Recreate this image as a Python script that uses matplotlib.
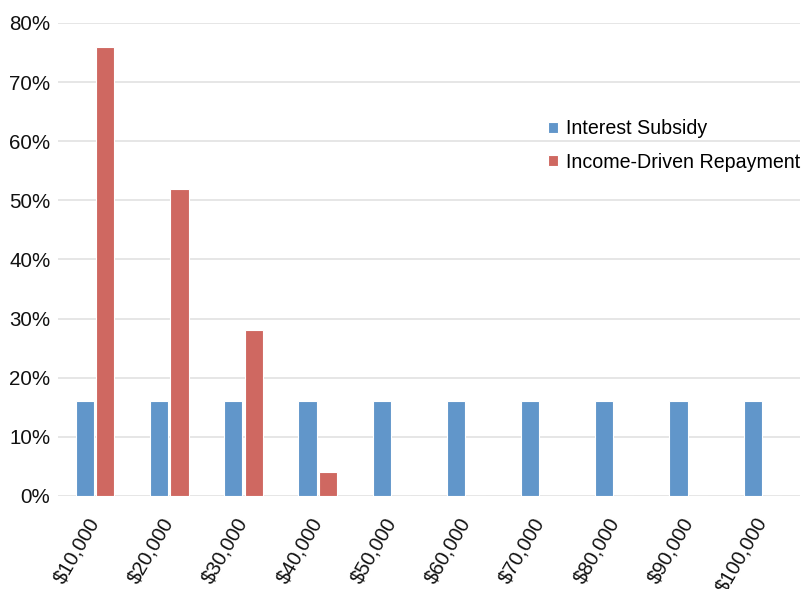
import numpy as np
import matplotlib.pyplot as plt
from matplotlib.ticker import PercentFormatter

plt.rcParams['font.family'] = ['Liberation Sans', 'DejaVu Sans']

incomes = ['$10,000', '$20,000', '$30,000', '$40,000', '$50,000',
           '$60,000', '$70,000', '$80,000', '$90,000', '$100,000']
interest_subsidy = [16, 16, 16, 16, 16, 16, 16, 16, 16, 16]
idr = [76, 52, 28, 4, 0, 0, 0, 0, 0, 0]

blue = '#6196CA'
red = '#CF6861'

fig = plt.figure(figsize=(8.12, 5.89), dpi=100)
ax = fig.add_axes([0.0714, 0.158, 0.914, 0.803])

x = np.arange(len(incomes))
w = 0.245
ax.bar(x - 0.138, interest_subsidy, w, color=blue, edgecolor='white', linewidth=0.8,
       label='Interest Subsidy', zorder=3)
ax.bar(x + 0.138, idr, w, color=red, edgecolor='white', linewidth=0.8,
       label='Income-Driven Repayment', zorder=3)

ax.set_xlim(-0.5, len(incomes) - 0.5)
ax.set_ylim(0, 80)
ax.set_yticks(np.arange(0, 81, 10))
ax.yaxis.set_major_formatter(PercentFormatter(decimals=0))
ax.grid(axis='y', color='#E2E2E2', linewidth=1.2, zorder=0)
ax.set_axisbelow(True)

for s in ax.spines.values():
    s.set_visible(False)

ax.tick_params(axis='y', length=0, pad=5.5, labelsize=14.8, labelcolor='#111111')
ax.tick_params(axis='x', length=0, pad=16.5, labelsize=14.5, labelcolor='#111111')
ax.set_xticks(x)
ax.set_xticklabels(incomes, rotation=60, ha='right', va='center',
                   rotation_mode='anchor')

leg = ax.legend(loc='center left', bbox_to_anchor=(0.660, 0.741), frameon=False,
                fontsize=14.1, handlelength=0.5, handleheight=0.5,
                handletextpad=0.45, labelspacing=0.75, borderpad=0,
                borderaxespad=0)

fig.savefig('out.png', dpi=100)
